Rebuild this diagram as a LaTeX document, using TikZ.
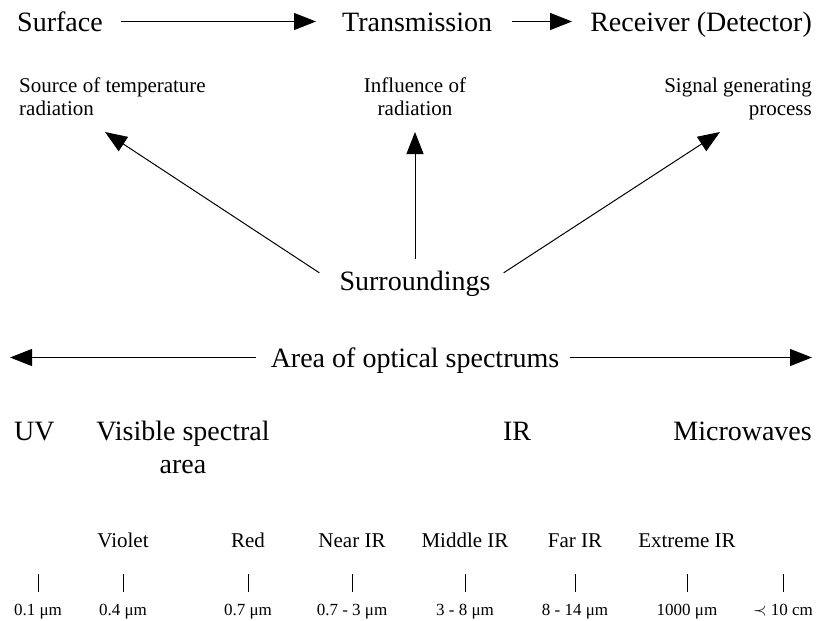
\documentclass[tikz,border=0pt]{standalone}
\usepackage{fontspec}
\setmainfont{Liberation Serif}
\usetikzlibrary{arrows.meta}

\tikzset{
  big/.style={font=\fontsize{28}{33}\selectfont, inner sep=0pt, text height=19pt, text depth=0pt},
  bigblock/.style={font=\fontsize{28}{33}\selectfont, inner sep=0pt},
  mid/.style={font=\fontsize{21}{23}\selectfont, inner sep=0pt},
  small/.style={font=\fontsize{17}{20}\selectfont, inner sep=0pt, text height=12pt, text depth=0pt},
  bigarrow/.style={-{Triangle[length=22pt,width=17pt]}, line width=1pt},
  tick/.style={line width=1pt}
}

\begin{document}
\begin{tikzpicture}[x=1pt,y=-1pt]
\useasboundingbox (0,0) rectangle (817,621);

\node[big, anchor=base west] (surface) at (17,31) {Surface};
\node[big, anchor=base west] (trans)   at (342,31) {Transmission};
\node[big, anchor=base east] (recv)    at (812,31) {Receiver (Detector)};

\draw[bigarrow, shorten <=18pt, shorten >=26pt] (surface) -- (trans);
\draw[bigarrow, shorten <=20pt, shorten >=18pt] (trans) -- (recv);

\node[mid, align=left, anchor=north west]  (source)    at (19,78)  {Source of temperature\\radiation};
\node[mid, align=center, anchor=north]     (influence) at (415,78) {Influence of\\radiation};
\node[mid, align=right, anchor=north east] (signal)    at (812,78) {Signal generating\\process};

\node[big, anchor=base] (surr) at (415,290) {Surroundings};
\coordinate (srctip) at (105,132);
\coordinate (inftip) at (415,132);
\coordinate (sigtip) at (720,132);

\draw[bigarrow] ([xshift=-20pt,yshift=-2pt]surr.north west) -- (srctip);
\draw[bigarrow] ([yshift=12pt]surr.north) -- (inftip);
\draw[bigarrow] ([xshift=13pt,yshift=-2pt]surr.north east) -- (sigtip);

\node[big, anchor=base] (area) at (415,367) {Area of optical spectrums};
\coordinate (aleft)  at (10,357.5);
\coordinate (aright) at (812,357.5);
\draw[bigarrow, shorten <=15pt] (area) -- (aleft);
\draw[bigarrow, shorten <=11pt] (area) -- (aright);

\node[big, anchor=base west] (uv) at (14,440) {UV};
\node[bigblock, align=center, anchor=north] (visible) at (183,421) {Visible spectral\\area};
\node[big, anchor=base] (ir) at (517,440) {IR};
\node[big, anchor=base east] (micro) at (812,440) {Microwaves};

\node[mid, anchor=base] (violet)  at (123,547) {Violet};
\node[mid, anchor=base] (red)     at (248,547) {Red};
\node[mid, anchor=base] (nearir)  at (352,547) {Near IR};
\node[mid, anchor=base] (midir)   at (465,547) {Middle IR};
\node[mid, anchor=base] (farir)   at (575,547) {Far IR};
\node[mid, anchor=base] (extir)   at (687,547) {Extreme IR};

\node[small, anchor=base] (v1) at (38,615)  {0.1 μm};
\node[small, anchor=base] (v2) at (123,615) {0.4 μm};
\node[small, anchor=base] (v3) at (248,615) {0.7 μm};
\node[small, anchor=base] (v4) at (352,615) {0.7 - 3 μm};
\node[small, anchor=base] (v5) at (465,615) {3 - 8 μm};
\node[small, anchor=base] (v6) at (575,615) {8 - 14 μm};
\node[small, anchor=base] (v7) at (687,615) {1000 μm};
\node[small, anchor=base] (v8) at (783,615) {$\prec$ 10 cm};

\draw[tick] ([yshift=11pt]v1.north) -- ([yshift=29pt]v1.north);
\draw[tick] ([yshift=11pt]v2.north) -- ([yshift=29pt]v2.north);
\draw[tick] ([yshift=11pt]v3.north) -- ([yshift=29pt]v3.north);
\draw[tick] ([yshift=11pt]v4.north) -- ([yshift=29pt]v4.north);
\draw[tick] ([yshift=11pt]v5.north) -- ([yshift=29pt]v5.north);
\draw[tick] ([yshift=11pt]v6.north) -- ([yshift=29pt]v6.north);
\draw[tick] ([yshift=11pt]v7.north) -- ([yshift=29pt]v7.north);
\draw[tick] ([yshift=11pt]v8.north) -- ([yshift=29pt]v8.north);

\end{tikzpicture}
\end{document}
